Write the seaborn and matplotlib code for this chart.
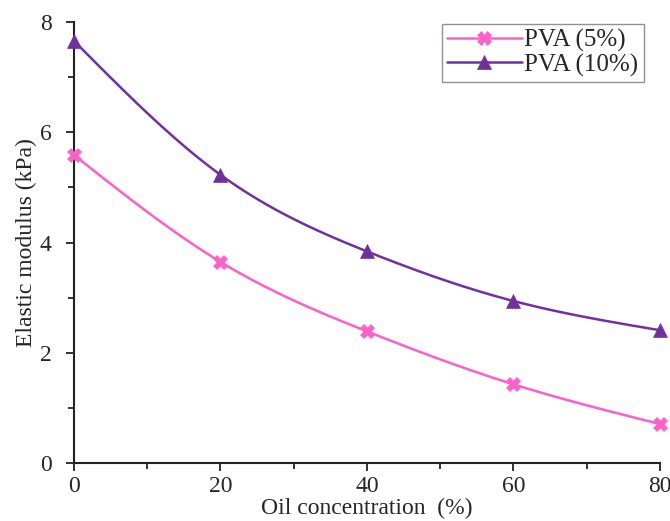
import numpy as np
import pandas as pd
import matplotlib
matplotlib.use("Agg")
import matplotlib.pyplot as plt
from matplotlib.lines import Line2D
from matplotlib.ticker import MultipleLocator
import seaborn as sns

oil = [0, 20, 40, 60, 80]
pva5 = [5.59, 3.65, 2.39, 1.43, 0.71]
pva10 = [7.66, 5.23, 3.84, 2.94, 2.41]
series_names = ["PVA (5%)", "PVA (10%)"]
colors = ["#FF5FC8", "#7030A0"]
markers = ["X", "^"]


def natural_spline(x, y, n=200):
    x = np.asarray(x, float)
    y = np.asarray(y, float)
    k = len(x)
    h = np.diff(x)
    A = np.zeros((k, k))
    b = np.zeros(k)
    A[0, 0] = A[-1, -1] = 1
    for i in range(1, k - 1):
        A[i, i - 1] = h[i - 1]
        A[i, i] = 2 * (h[i - 1] + h[i])
        A[i, i + 1] = h[i]
        b[i] = 3 * ((y[i + 1] - y[i]) / h[i] - (y[i] - y[i - 1]) / h[i - 1])
    c = np.linalg.solve(A, b)
    xs = np.linspace(x[0], x[-1], n)
    ys = np.empty_like(xs)
    for j, xv in enumerate(xs):
        i = min(np.searchsorted(x, xv, side="right") - 1, k - 2)
        dx = xv - x[i]
        bb = (y[i + 1] - y[i]) / h[i] - h[i] * (2 * c[i] + c[i + 1]) / 3
        d = (c[i + 1] - c[i]) / (3 * h[i])
        ys[j] = y[i] + bb * dx + c[i] * dx ** 2 + d * dx ** 3
    return xs, ys


sns.set_style("ticks")
plt.rcParams["font.family"] = ["Liberation Serif", "DejaVu Serif"]

fig = plt.figure(figsize=(6.70, 5.21), dpi=100)
ax = fig.add_axes([0.110, 0.111, 0.875, 0.847])

handles = []
for name, vals, col, mk in zip(series_names, [pva5, pva10], colors, markers):
    xs, ys = natural_spline(oil, vals)
    sns.lineplot(x=xs, y=ys, ax=ax, color=col, linewidth=1.8, legend=False)
    sns.scatterplot(x=oil, y=vals, ax=ax, color=col, marker=mk, s=100,
                    edgecolor=col, linewidth=0.5, legend=False, zorder=5, clip_on=False)
    handles.append(Line2D([0], [0], color=col, lw=1.8, marker=mk, markersize=10,
                          markeredgecolor=col, markeredgewidth=0.5))

ax.set_xlim(0, 80)
ax.set_ylim(0, 8)
ax.xaxis.set_major_locator(MultipleLocator(20))
ax.xaxis.set_minor_locator(MultipleLocator(10))
ax.yaxis.set_major_locator(MultipleLocator(2))
ax.yaxis.set_minor_locator(MultipleLocator(1))
ax.tick_params(which="major", direction="out", length=6, width=1.3, labelsize=17, color="#222222")
ax.tick_params(which="minor", direction="out", length=4, width=1.3, color="#222222")
ax.tick_params(axis="y", pad=10)
ax.tick_params(axis="x", pad=3)
for s in ["top", "right"]:
    ax.spines[s].set_visible(False)
for s in ["left", "bottom"]:
    ax.spines[s].set_linewidth(1.5)
    ax.spines[s].set_color("#222222")

ax.set_xlabel("Oil concentration  (%)", fontsize=17, labelpad=1)
ax.set_ylabel("Elastic modulus (kPa)", fontsize=17, labelpad=2)

leg = ax.legend(handles, series_names, loc="upper right", bbox_to_anchor=(0.972, 0.995),
                fontsize=18, frameon=True, fancybox=False, edgecolor="#777777",
                handlelength=3.0, handletextpad=0.1, borderpad=0.2, labelspacing=0.05,
                borderaxespad=0)
leg.get_frame().set_linewidth(1.0)

fig.savefig("out.png", dpi=100)
